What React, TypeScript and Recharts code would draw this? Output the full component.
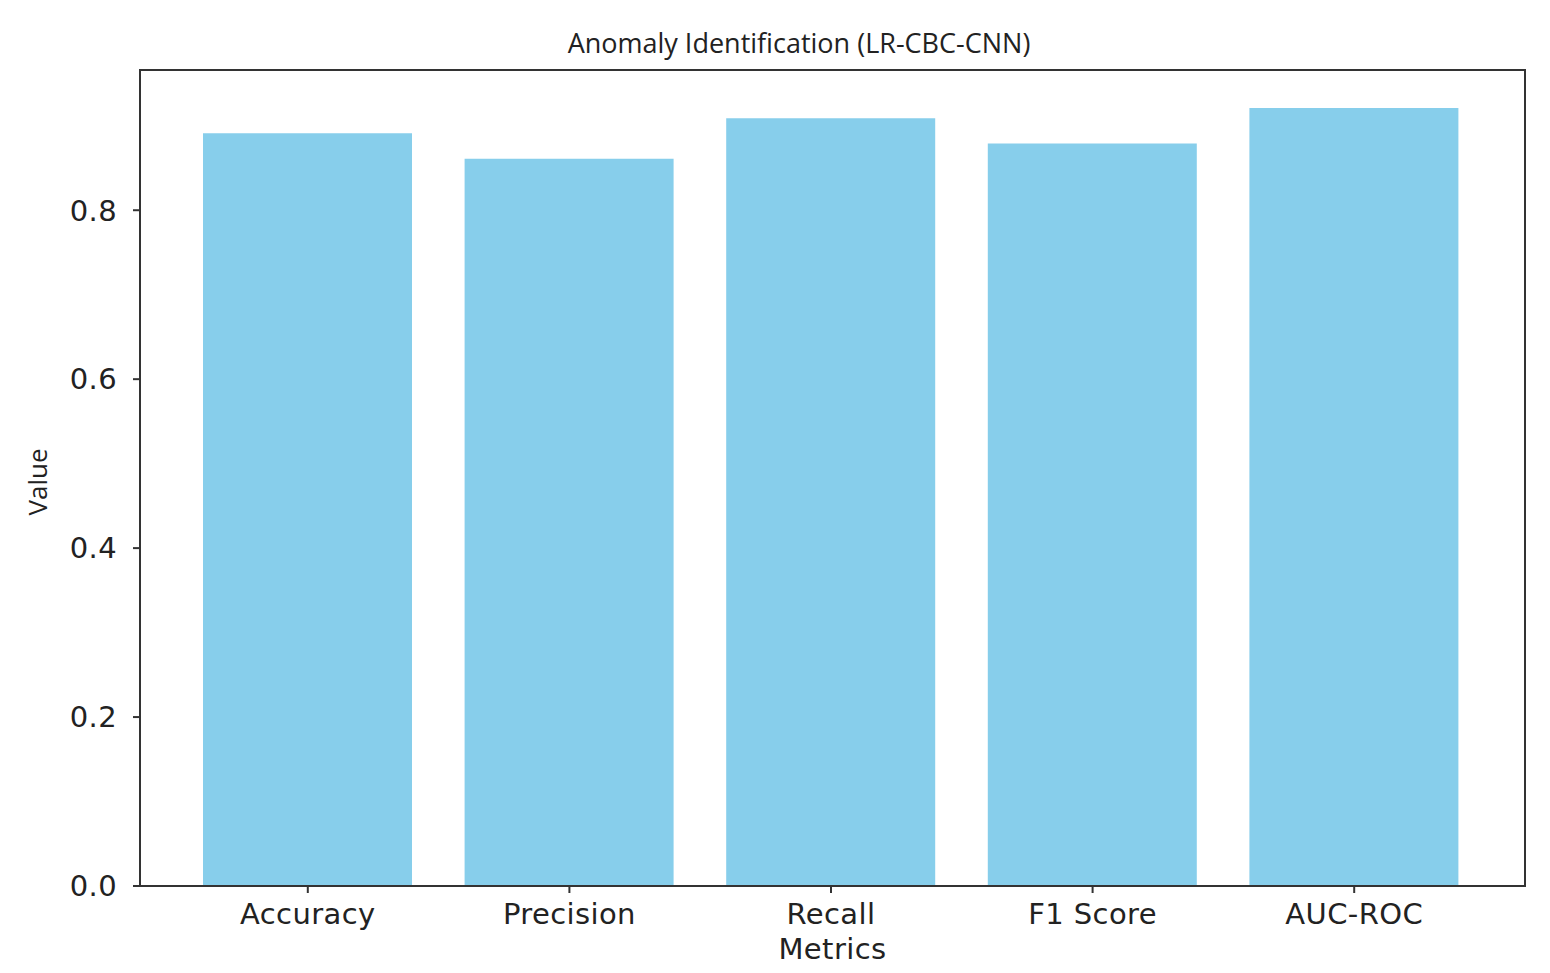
import { Bar, BarChart, XAxis, YAxis } from 'recharts';

const metrics = ['Accuracy', 'Precision', 'Recall', 'F1 Score', 'AUC-ROC'];
const values = [0.891, 0.861, 0.909, 0.879, 0.921];
const yTicks = [0, 0.2, 0.4, 0.6, 0.8];

const chartData = metrics.map((name, i) => ({ name, value: values[i] }));

const axisColor = '#333333';
const textColor = '#222222';
const tickFont = { fontSize: 29, fill: textColor, letterSpacing: 0.4 };

export default function App() {
  return (
    <div
      style={{
        position: 'absolute',
        left: 0,
        top: 0,
        width: 1550,
        height: 973,
        background: '#fff',
        fontFamily: 'DejaVu Sans'
      }}
    >
      <div
        style={{
          position: 'absolute',
          left: 0,
          width: 1598,
          top: 26,
          textAlign: 'center',
          fontFamily: 'Open Sans',
          fontSize: 27,
          color: textColor,
          lineHeight: '34px'
        }}
      >
        Anomaly Identification (LR-CBC-CNN)
      </div>
      {/* plot frame (top + right spines) */}
      <div
        style={{
          position: 'absolute',
          left: 139,
          top: 69,
          width: 1385,
          height: 816,
          borderTop: `2px solid ${axisColor}`,
          borderRight: `2px solid ${axisColor}`,
          pointerEvents: 'none'
        }}
      />
      <BarChart
        width={1550}
        height={973}
        data={chartData}
        margin={{ top: 70, right: 25, bottom: 0, left: 0 }}
        style={{ fontFamily: 'DejaVu Sans' }}
      >
        <XAxis
          dataKey="name"
          height={87}
          padding={{ left: 37, right: 40 }}
          tickSize={7}
          tickMargin={10}
          tick={tickFont}
          axisLine={{ stroke: axisColor, strokeWidth: 2 }}
          tickLine={{ stroke: axisColor, strokeWidth: 2 }}
          label={{
            value: 'Metrics',
            position: 'insideBottom',
            offset: 14,
            style: { fontSize: 29, fill: textColor, letterSpacing: 0.4 }
          }}
        />
        <YAxis
          width={140}
          domain={[0, 0.966]}
          ticks={yTicks}
          tickFormatter={(v: number) => v.toFixed(1)}
          tickSize={7}
          tickMargin={16}
          tick={tickFont}
          axisLine={{ stroke: axisColor, strokeWidth: 2 }}
          tickLine={{ stroke: axisColor, strokeWidth: 2 }}
          label={{
            content: () => (
              <text
                x={37}
                y={482}
                transform="rotate(-90 37 482)"
                textAnchor="middle"
                dominantBaseline="central"
                style={{ fontFamily: 'Open Sans', fontSize: 26 }}
                fill={textColor}
              >
                Value
              </text>
            )
          }}
        />
        <Bar dataKey="value" fill="#87CEEB" barSize={209} isAnimationActive={false} />
      </BarChart>
    </div>
  );
}
